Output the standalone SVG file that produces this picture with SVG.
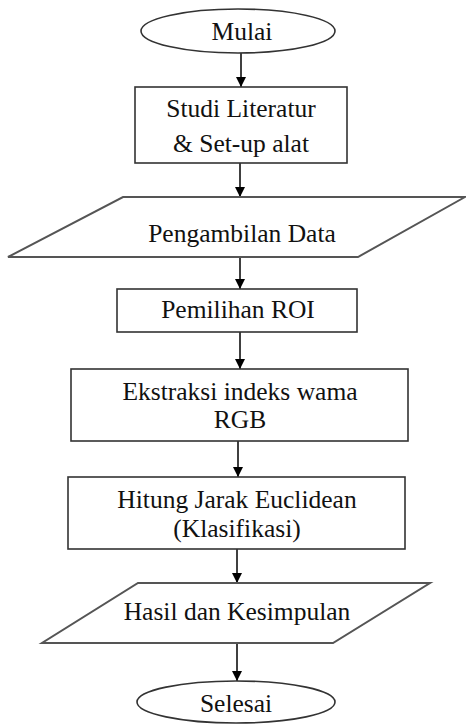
<svg xmlns="http://www.w3.org/2000/svg" width="466" height="724" viewBox="0 0 466 724">
<style>
.shape{fill:#fff;stroke:#333;stroke-width:1.6}
.io{fill:#fff;stroke:#555;stroke-width:2}
.lbl{font-family:'Liberation Serif','Times New Roman',serif;font-size:25.5px;fill:#111;text-anchor:middle}
.conn{stroke:#000;stroke-width:1.5;fill:none}
</style>
<defs>
<marker id="ah" viewBox="0 0 10 10" refX="10" refY="5" markerWidth="10" markerHeight="10" markerUnits="userSpaceOnUse" orient="auto">
<path d="M0,0 L10,5 L0,10 Z" fill="#000"/>
</marker>
</defs>
<rect width="466" height="724" fill="#fff"/>
<g id="connectors">
<line class="conn" x1="241" y1="53" x2="241" y2="87" marker-end="url(#ah)"/>
<line class="conn" x1="240" y1="163" x2="240" y2="197" marker-end="url(#ah)"/>
<line class="conn" x1="240" y1="257" x2="240" y2="289" marker-end="url(#ah)"/>
<line class="conn" x1="240" y1="332" x2="240" y2="369" marker-end="url(#ah)"/>
<line class="conn" x1="238" y1="441" x2="238" y2="477" marker-end="url(#ah)"/>
<line class="conn" x1="237" y1="549" x2="237" y2="583" marker-end="url(#ah)"/>
<line class="conn" x1="237" y1="643" x2="237" y2="681" marker-end="url(#ah)"/>
</g>
<g id="mulai">
<ellipse class="shape" cx="238" cy="31" rx="97" ry="22"/>
<text class="lbl" x="242" y="40">Mulai</text>
</g>
<g id="studi">
<rect class="shape" x="135" y="87" width="212" height="76"/>
<text class="lbl" x="241" y="117">Studi Literatur</text>
<text class="lbl" x="241" y="152">&amp; Set-up alat</text>
</g>
<g id="pengambilan">
<polygon class="io" points="123,197 465,197 358,257 8,257"/>
<text class="lbl" x="242" y="242">Pengambilan Data</text>
</g>
<g id="pemilihan">
<rect class="shape" x="117" y="289" width="240" height="43"/>
<text class="lbl" x="238" y="318">Pemilihan ROI</text>
</g>
<g id="ekstraksi">
<rect class="shape" x="71" y="369" width="337" height="72"/>
<text class="lbl" x="240" y="400">Ekstraksi indeks wama</text>
<text class="lbl" x="240" y="428">RGB</text>
</g>
<g id="hitung">
<rect class="shape" x="68" y="477" width="337" height="72"/>
<text class="lbl" x="237" y="508">Hitung Jarak Euclidean</text>
<text class="lbl" x="237" y="537">(Klasifikasi)</text>
</g>
<g id="hasil">
<polygon class="io" points="138,583 430,583 333,643 42,643"/>
<text class="lbl" x="237" y="620">Hasil dan Kesimpulan</text>
</g>
<g id="selesai">
<ellipse class="shape" cx="236" cy="702" rx="99" ry="21"/>
<text class="lbl" x="236" y="712">Selesai</text>
</g>
</svg>
